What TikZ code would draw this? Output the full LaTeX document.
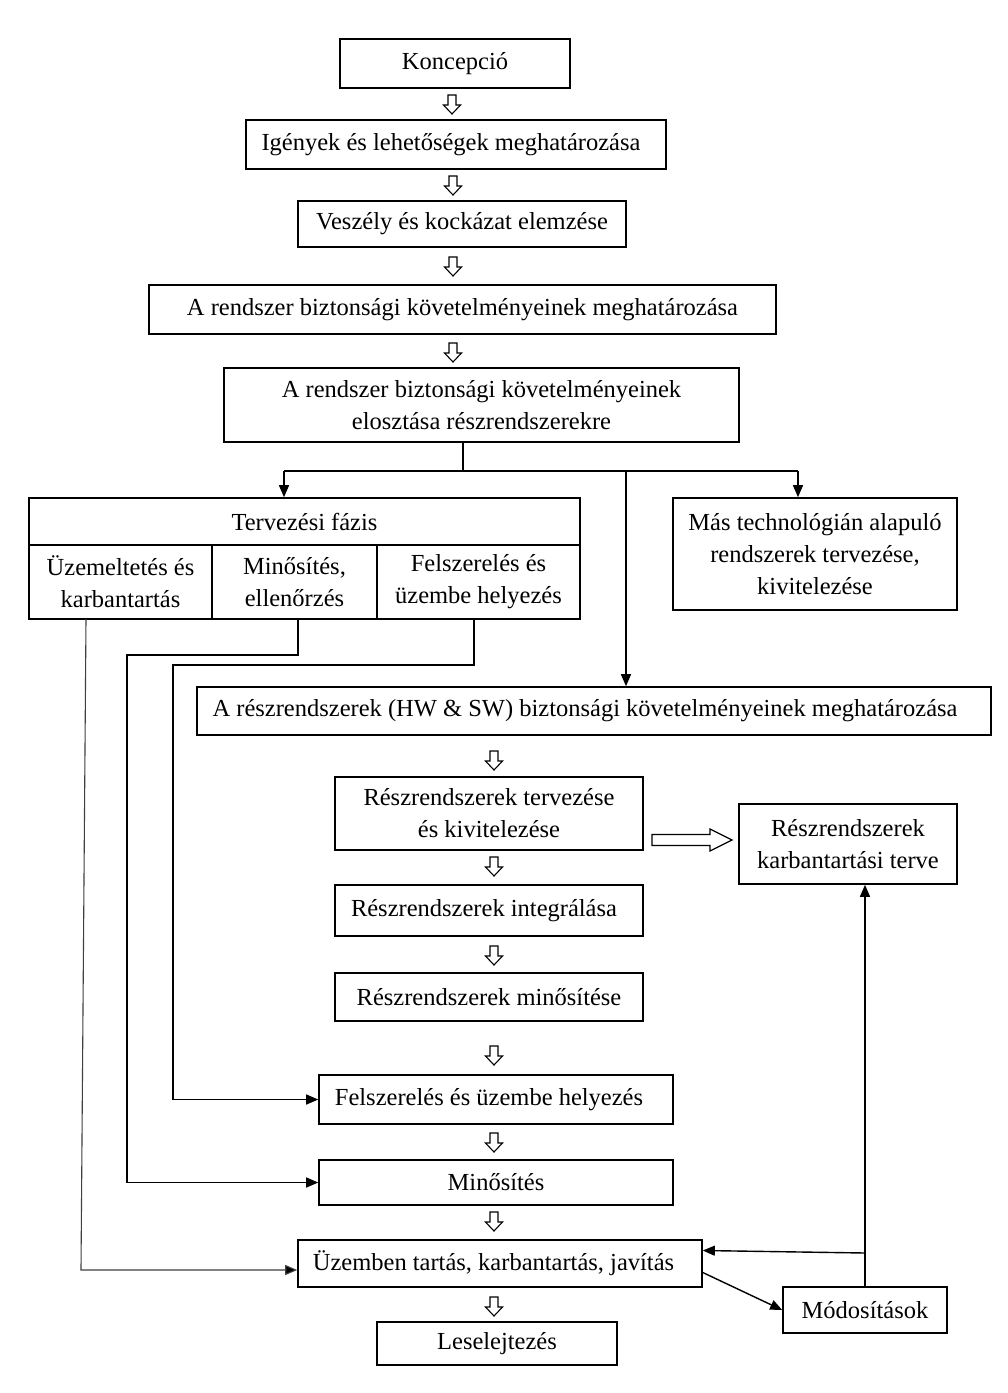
\documentclass[tikz,border=0pt]{standalone}
\usepackage{fontspec}
\setmainfont{Liberation Serif}
\usetikzlibrary{arrows.meta,calc}
\begin{document}
\begin{tikzpicture}[x=1pt,y=-1pt,
  box/.style={draw, line width=1.6pt, inner sep=0pt, align=center,
    font=\fontsize{24.5}{32}\selectfont},
  conn/.style={line width=1.4pt},
  arr/.style={conn,-{Triangle[length=12pt,width=10pt]}},
  thinconn/.style={line width=1.1pt, draw=black!75, -{Triangle[length=12pt,width=10pt,fill=black]}},
  downarr/.pic={\draw[line width=1.1pt, line join=miter]
     (-4,-9) -- (4,-9) -- (4,1) -- (8.5,1) -- (0,10) -- (-8.5,1) -- (-4,1) -- cycle;},
  rightarr/.pic={\draw[line width=1.3pt, line join=miter]
     (-40,-5.5) -- (18,-5.5) -- (18,-11) -- (40,0) -- (18,11) -- (18,5.5) -- (-40,5.5) -- cycle;}
]
\useasboundingbox[fill=white] (0,0) rectangle (1008,1393);

\node[box, minimum width=230, minimum height=49] (n1) at (455,63.5) {Koncepció};
\node[box, minimum width=420, minimum height=49] (n2) at (456,144.5) {Igények és lehetőségek meghatározása\hspace*{10pt}};
\node[box, minimum width=328, minimum height=46] (n3) at (462,224) {Veszély és kockázat elemzése};
\node[box, minimum width=627, minimum height=49] (n4) at (462.5,309.5) {A rendszer biztonsági követelményeinek meghatározása};
\node[box, minimum width=515, minimum height=74] (n5) at (481.5,405) {A rendszer biztonsági követelményeinek\\elosztása részrendszerekre};

\node[box, minimum width=551, minimum height=47] (tf) at (304.5,521.5) {Tervezési fázis};
\node[box, minimum width=183, minimum height=74] (tfa) at (120.5,582) {Üzemeltetés és\\karbantartás};
\node[box, minimum width=165, minimum height=74] (tfb) at (294.5,582) {Minősítés,\\ellenőrzés};
\node[box, minimum width=203, minimum height=74] (tfc) at (478.5,582) {Felszerelés és\\üzembe helyezés};

\node[box, minimum width=284, minimum height=112] (mas) at (815,554) {Más technológián alapuló\\rendszerek tervezése,\\kivitelezése};

\node[box, minimum width=794, minimum height=48] (hw) at (594,711) {A részrendszerek (HW \& SW) biztonsági követelményeinek meghatározása\hspace*{18pt}};

\node[box, minimum width=308, minimum height=73] (rt) at (489,813.5) {Részrendszerek tervezése\\és kivitelezése};
\node[box, minimum width=218, minimum height=80] (kt) at (848,844) {Részrendszerek\\karbantartási terve};
\node[box, minimum width=308, minimum height=51] (ri) at (489,910.5) {Részrendszerek integrálása\hspace*{10pt}};
\node[box, minimum width=308, minimum height=48] (rm) at (489,997) {Részrendszerek minősítése};
\node[box, minimum width=354, minimum height=49] (fe) at (496,1099.5) {Felszerelés és üzembe helyezés\hspace*{14pt}};
\node[box, minimum width=354, minimum height=45] (mi) at (496,1182.5) {Minősítés};
\node[box, minimum width=404, minimum height=47] (uz) at (500,1263.5) {Üzemben tartás, karbantartás, javítás\hspace*{13pt}};
\node[box, minimum width=164, minimum height=46] (mod) at (865,1310) {Módosítások};
\node[box, minimum width=240, minimum height=43] (le) at (497,1343.5) {Leselejtezés};

% hollow arrows
\foreach \p in {(452,104),(453,185),(453,266),(453,352),(494,760),(494,866),(494,955),(494,1055),(494,1142),(494,1221),(494,1306)}
  \pic at \p {downarr};
\pic at (692,840) {rightarr};

% split below n5
\coordinate (sp) at (463,471);
\coordinate (jL) at (284,471);
\coordinate (jM) at (626,471);
\coordinate (jR) at (798,471);
\draw[conn] (sp |- n5.south) -- (sp);
\draw[conn] (jL) -- (jR);
\draw[arr] (jL) -- (jL |- tf.north);
\draw[arr] (jR) -- (jR |- mas.north);
\draw[arr] (jM) -- (jM |- hw.north);

% left feedback lines
\coordinate (a1) at (86,619);
\coordinate (a2) at (81,1270);
\draw[thinconn] (a1) -- (a2) -- (a2 -| uz.west);
\coordinate (b1) at (298,619);
\coordinate (b2) at (127,655);
\draw[arr] (b1) |- (b2) |- (mi.west);
\coordinate (c1) at (474,619);
\coordinate (c2) at (173,665);
\draw[arr] (c1) |- (c2) |- (fe.west);

% right side
\coordinate (m1) at (865,1253);
\draw[arr] (mod.north) -- (mod.north |- kt.south);
\draw[arr] (m1) -- ([yshift=13pt]uz.east);
\draw[arr] ([yshift=-9pt]uz.east) -- (mod.west);
\end{tikzpicture}
\end{document}
